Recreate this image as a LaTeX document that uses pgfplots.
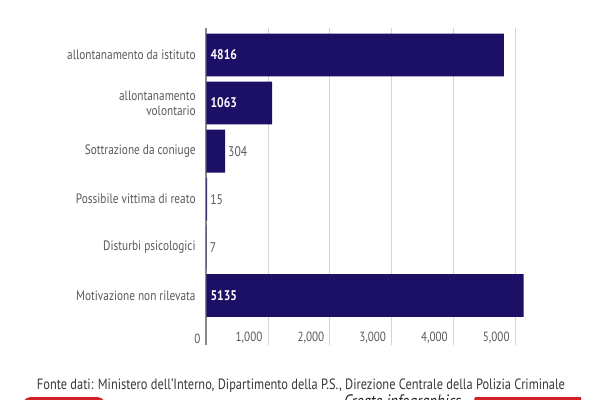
\documentclass[border=0pt]{standalone}
\usepackage{fontspec}
\setmainfont{PT Sans}[FakeStretch=0.83]
\usepackage{pgfplots}
\pgfplotsset{compat=1.18}
\usepackage{pgfplotstable}

\definecolor{barnavy}{HTML}{1B0F66}
\definecolor{txtgray}{HTML}{595959}
\definecolor{gridgray}{HTML}{D4D4D4}
\definecolor{axisgray}{HTML}{888888}
\definecolor{brandred}{HTML}{D2202A}

% pos: row of the category (top to bottom), inside: label set inside the bar
\pgfplotstableread{
pos value inside
0 4816 1
1 1063 1
2 304 0
3 15 0
4 7 0
5 5135 1
}\motivi

% page coordinates: 1 unit = 0.75pt, measured from the top-left corner
\newcommand\pg[2]{({#1*0.75pt},{-#2*0.75pt})}

\begin{document}
\begin{tikzpicture}
\useasboundingbox \pg{0}{0} rectangle \pg{600}{400};
\begin{pgfinterruptboundingbox}
\clip \pg{0}{0} rectangle \pg{600}{400};

\begin{axis}[
  at={(154.725pt,-21pt)}, anchor=north west,
  scale only axis, width=241.05pt, height=237.75pt,
  xmin=0, xmax=5200, ymin=-0.56, ymax=6.03, y dir=reverse,
  axis x line*=bottom, axis y line*=left,
  x axis line style={draw=none},
  y axis line style={-, draw=axisgray, line width=1.5pt},
  xtick={0,1000,...,5000}, ytick={0,...,5},
  yticklabels={allontanamento da istituto,{allontanamento\\volontario},Sottrazione da coniuge,Possibile vittima di reato,Disturbi psicologici,Motivazione non rilevata},
  major tick length=0pt,
  xmajorgrids, grid style={draw=gridgray, line width=0.75pt},
  /pgf/number format/assume math mode=true,
  /pgf/number format/1000 sep={,},
  xticklabel style={anchor=south east, xshift=-0.8pt, yshift=-2.2pt, text=txtgray,
    font=\fontsize{10pt}{11pt}\selectfont},
  yticklabel style={align=right, xshift=-4.5pt, text=txtgray,
    font=\fontsize{10.2pt}{11pt}\selectfont},
  clip=false,
]
\addplot[xbar, bar width=0.89, bar shift=0pt, fill=barnavy, draw=none]
  table[x=value, y=pos]{\motivi};
% values inside the long bars
\addplot[draw=none, mark=none, nodes near coords, point meta=explicit symbolic,
  restrict expr to domain={\thisrow{inside}}{0.5:1.5},
  nodes near coords style={anchor=west, xshift=-0.3pt, text=white,
    font=\fontsize{10.5pt}{11pt}\selectfont\bfseries}]
  table[x expr=0, y=pos, meta=value]{\motivi};
% values beside the short bars
\addplot[draw=none, mark=none, nodes near coords, point meta=explicit symbolic,
  restrict expr to domain={\thisrow{inside}}{-0.5:0.5},
  nodes near coords style={anchor=west, xshift=-1.2pt, text=txtgray,
    font=\fontsize{10.5pt}{11pt}\selectfont}]
  table[x=value, y=pos, meta=value]{\motivi};
\end{axis}

\node[anchor=base, text=black!78, font=\fontsize{11.2pt}{12pt}\selectfont]
  at \pg{301}{389} {Fonte dati: Ministero dell'Interno, Dipartimento della P.S., Direzione Centrale della Polizia Criminale};

% footer buttons
\fill[brandred, rounded corners=6pt] \pg{23}{397} rectangle \pg{105}{430};
\fill[white] \pg{39}{405} circle (3pt);
\fill[brandred] \pg{475}{397} -- \pg{581}{397} -- \pg{581}{430} -- \pg{466}{430} -- cycle;
\node[anchor=base, text=black!85, font=\fontsize{13.5pt}{14pt}\selectfont\itshape]
  at \pg{402.5}{407} {Create infographics};
\end{pgfinterruptboundingbox}
\end{tikzpicture}
\end{document}
